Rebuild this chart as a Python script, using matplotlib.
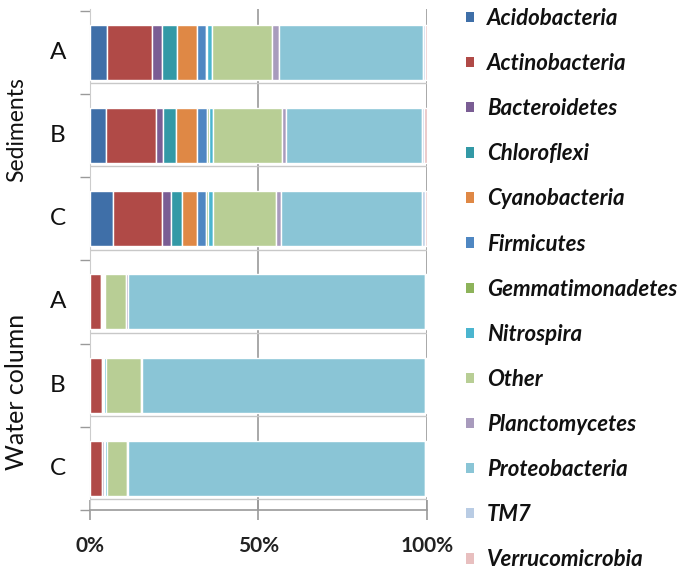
import matplotlib
matplotlib.use("Agg")
import matplotlib.pyplot as plt
from matplotlib.patches import Patch
import numpy as np

samples = ["A", "B", "C", "A", "B", "C"]
groups = ["Sediments", "Water column"]
phyla = ["Acidobacteria", "Actinobacteria", "Bacteroidetes", "Chloroflexi",
         "Cyanobacteria", "Firmicutes", "Gemmatimonadetes", "Nitrospira",
         "Other", "Planctomycetes", "Proteobacteria", "TM7", "Verrucomicrobia"]
colors = ["#3F6FA8", "#B04A47", "#7A5D94", "#3399A6", "#DF8845", "#4F87C2",
          "#8DB35A", "#4BB5CF", "#B8CE95", "#A89BBD", "#8AC5D6", "#B9CCE4",
          "#E8BFBF"]

# percentages per sample (Sed A, Sed B, Sed C, Water A, Water B, Water C)
acidobacteria   = [4.9, 4.6, 6.9, 0.0, 0.0, 0.0]
actinobacteria  = [13.6, 15.0, 14.6, 3.2, 3.7, 3.5]
bacteroidetes   = [2.8, 2.2, 2.5, 0.4, 0.3, 0.6]
chloroflexi     = [4.4, 3.6, 3.2, 0.0, 0.0, 0.0]
cyanobacteria   = [6.0, 6.3, 4.5, 0.2, 0.0, 0.0]
firmicutes      = [2.6, 3.1, 2.7, 0.4, 0.3, 0.4]
gemmatimonadetes= [0.4, 0.5, 0.5, 0.0, 0.0, 0.0]
nitrospira      = [1.4, 1.3, 1.7, 0.3, 0.3, 0.4]
other           = [17.8, 20.3, 18.5, 6.2, 10.4, 6.0]
planctomycetes  = [2.2, 1.3, 1.6, 0.5, 0.3, 0.5]
proteobacteria  = [42.8, 40.2, 41.9, 88.2, 84.1, 88.0]
tm7             = [0.5, 0.8, 0.7, 0.3, 0.3, 0.3]
verrucomicrobia = [0.6, 0.8, 0.7, 0.3, 0.3, 0.3]

series = [acidobacteria, actinobacteria, bacteroidetes, chloroflexi,
          cyanobacteria, firmicutes, gemmatimonadetes, nitrospira, other,
          planctomycetes, proteobacteria, tm7, verrucomicrobia]

xticks = [0, 50, 100]
xticklabels = ["0%", "50%", "100%"]

fam = "Lato"
fig = plt.figure(figsize=(6.86, 5.77), dpi=100)
W, H = 686, 577
ax = fig.add_axes([90 / W, 1 - 510 / H, (427 - 90) / W, (510 - 9) / H])

y = np.arange(len(samples))
bh = 0.66
left = np.zeros(len(samples))
for vals, col, name in zip(series, colors, phyla):
    v = np.array(vals)
    ax.barh(y, v, left=left, height=bh, color=col, edgecolor="white",
            linewidth=1.0, zorder=3, label=name)
    left += v

ax.set_xlim(0, 100)
ax.set_ylim(5.49, -0.52)

# vertical grid lines
for xv in [50, 100]:
    ax.axvline(xv, color="#9a9a9a", lw=1.2, zorder=1)
# floor lines under bars
for yi in y:
    ax.plot([0, 100], [yi + 0.37, yi + 0.37], color="#c8c8c8", lw=1.0, zorder=1)

ax.set_xticks(xticks)
ax.set_xticklabels(xticklabels, fontsize=15, family=fam, fontweight="bold",
                   color="#222222")
ax.tick_params(axis="x", direction="inout", length=14, width=1.2,
               color="#9a9a9a", pad=12)

ax.set_yticks(np.arange(-0.5, 6.0, 1.0))
ax.set_yticklabels([])
ax.tick_params(axis="y", direction="out", length=7, width=1.0, color="#9a9a9a")

for s in ["top", "right"]:
    ax.spines[s].set_visible(False)
ax.spines["bottom"].set_color("#9a9a9a")
ax.spines["bottom"].set_linewidth(1.2)
ax.spines["left"].set_color("#cccccc")

for yi, lab in zip(y, samples):
    ax.text(-9.6, yi, lab, ha="center", va="center", fontsize=17.5,
            family=fam, color="#111111")

fig.text(17 / W, 1 - 130 / H, groups[0], rotation=90, ha="center",
         va="center", fontsize=16.5, family=fam, color="#111111")
fig.text(17 / W, 1 - 392 / H, groups[1], rotation=90, ha="center",
         va="center", fontsize=18, family=fam, color="#111111")

handles = [Patch(facecolor=c, edgecolor="none") for c in colors]
leg = fig.legend(handles, phyla, loc="upper left",
                 bbox_to_anchor=(446 / W, 1 + 12 / H), frameon=False,
                 handlelength=0.34, handleheight=0.34, handletextpad=0.6,
                 labelspacing=1.085,
                 prop={"family": fam, "style": "italic", "weight": "bold",
                       "size": 16.0})
for t in leg.get_texts():
    t.set_color("#111111")

fig.savefig("out.png", dpi=100)
